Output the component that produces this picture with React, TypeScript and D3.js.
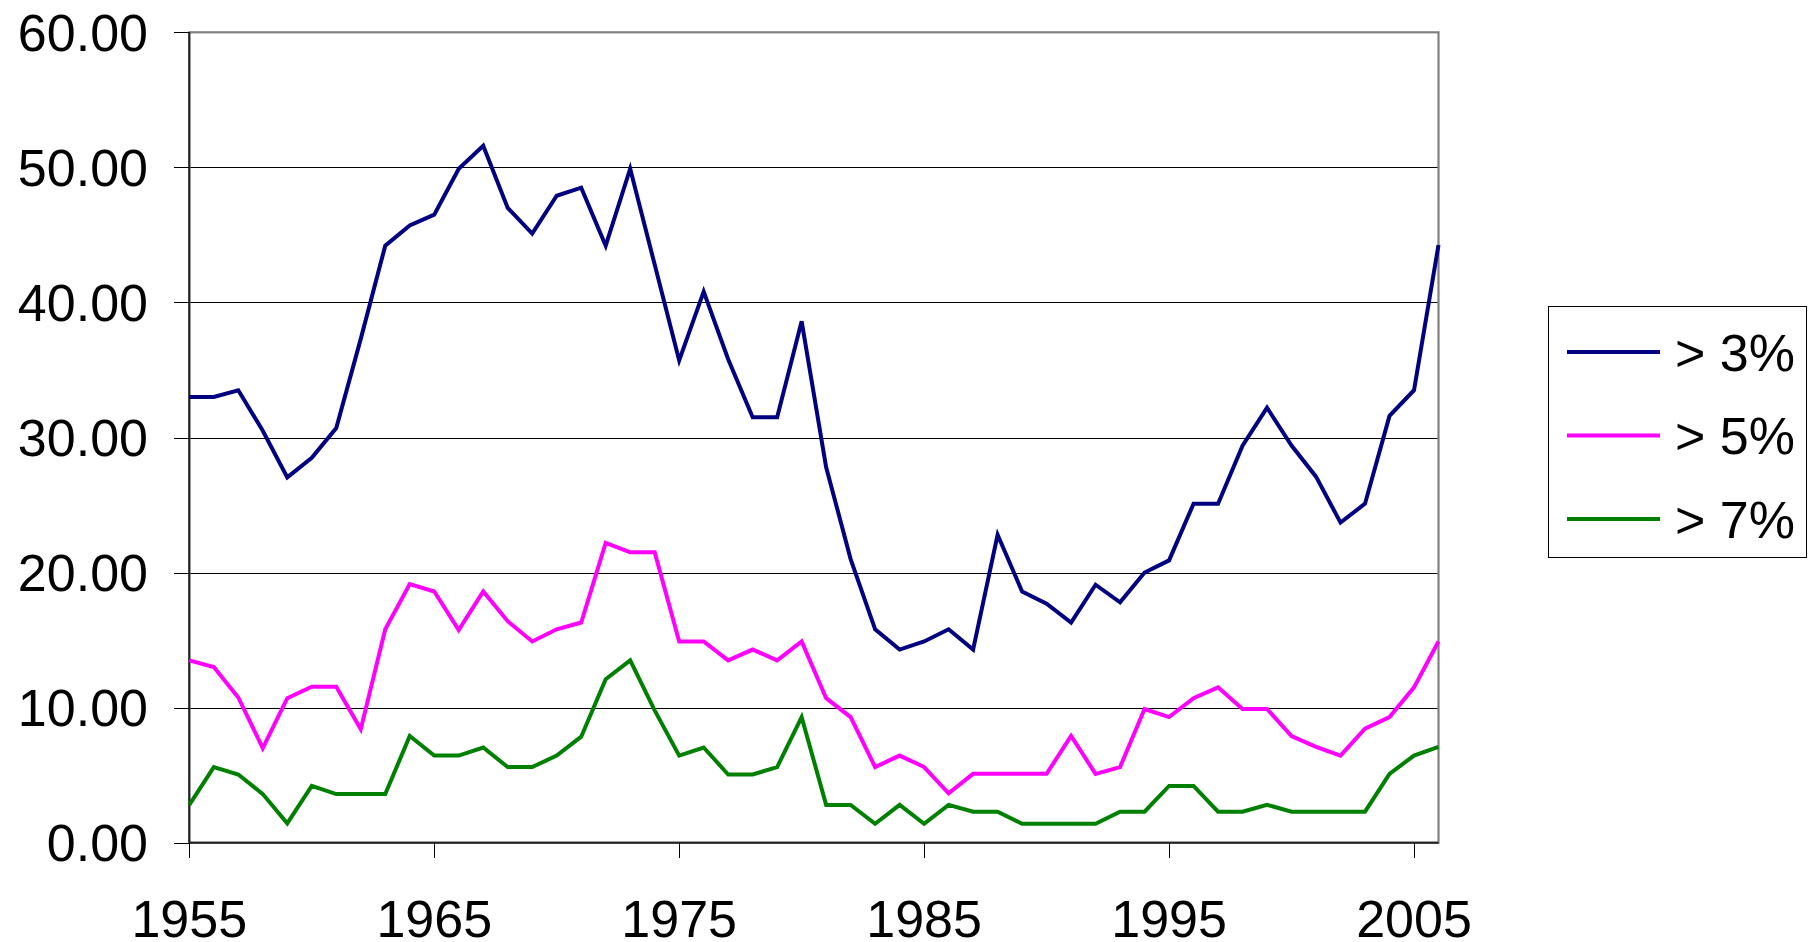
import React from "react";
import * as d3 from "d3";

const years = [
  1955, 1956, 1957, 1958, 1959, 1960, 1961, 1962, 1963, 1964,
  1965, 1966, 1967, 1968, 1969, 1970, 1971, 1972, 1973, 1974,
  1975, 1976, 1977, 1978, 1979, 1980, 1981, 1982, 1983, 1984,
  1985, 1986, 1987, 1988, 1989, 1990, 1991, 1992, 1993, 1994,
  1995, 1996, 1997, 1998, 1999, 2000, 2001, 2002, 2003, 2004,
  2005, 2006,
];

const over3 = [
  33.0, 33.0, 33.5, 30.5, 27.05, 28.5, 30.7, 37.3, 44.2, 45.7,
  46.5, 49.9, 51.6, 47.0, 45.1, 47.9, 48.5, 44.2, 49.9, 42.8,
  35.7, 40.8, 35.8, 31.5, 31.5, 38.6, 27.8, 21.0, 15.8, 14.3,
  14.9, 15.8, 14.3, 22.8, 18.6, 17.7, 16.3, 19.1, 17.8, 20.0,
  20.9, 25.1, 25.1, 29.4, 32.2, 29.4, 27.1, 23.7, 25.1, 31.6,
  33.5, 44.25,
];

const over5 = [
  13.5, 13.0, 10.75, 7.0, 10.7, 11.55, 11.55, 8.4, 15.8, 19.15,
  18.6, 15.75, 18.6, 16.4, 14.9, 15.8, 16.3, 22.2, 21.5, 21.5,
  14.9, 14.9, 13.5, 14.3, 13.5, 14.9, 10.7, 9.3, 5.6, 6.45,
  5.6, 3.65, 5.1, 5.1, 5.1, 5.1, 7.9, 5.1, 5.6, 9.9,
  9.3, 10.7, 11.5, 9.9, 9.9, 7.9, 7.1, 6.45, 8.45, 9.3,
  11.5, 14.9,
];

const over7 = [
  2.8, 5.6, 5.05, 3.6, 1.43, 4.2, 3.6, 3.6, 3.6, 7.9,
  6.45, 6.45, 7.05, 5.6, 5.6, 6.45, 7.85, 12.1, 13.5, 9.8,
  6.45, 7.05, 5.05, 5.05, 5.6, 9.3, 2.8, 2.8, 1.4, 2.8,
  1.4, 2.8, 2.3, 2.3, 1.4, 1.4, 1.4, 1.4, 2.3, 2.3,
  4.2, 4.2, 2.3, 2.3, 2.8, 2.3, 2.3, 2.3, 2.3, 5.1,
  6.45, 7.1,
];

const yTicks = [0, 10, 20, 30, 40, 50, 60];
const xTickYears = [1955, 1965, 1975, 1985, 1995, 2005];
const seriesNames = ["> 3%", "> 5%", "> 7%"];
const seriesColors = ["#000080", "#FF00FF", "#008000"];

const W = 1818;
const H = 942;
const plot = { left: 189.3, right: 1438.5, top: 32.3, bottom: 842.7 };
const FONT = "'Liberation Sans', Arial, Helvetica, sans-serif";

export default function App() {
  const x = d3.scaleLinear().domain([1955, 2006]).range([plot.left, plot.right]);
  const y = d3.scaleLinear().domain([0, 60]).range([plot.bottom, plot.top]);
  const line = d3
    .line<number>()
    .x((_, i) => x(years[i]))
    .y((d) => y(d));
  const series = [over3, over5, over7];

  const legend = { x: 1548.5, y: 306.5, w: 258, h: 251 };
  const legendRows = [352, 435.5, 519];

  return (
    <svg
      width={W}
      height={H}
      style={{ position: "absolute", left: 0, top: 0, background: "#fff" }}
      fontFamily={FONT}
    >
      <rect x={0} y={0} width={W} height={H} fill="#fff" />
      {/* gridlines */}
      {yTicks.slice(1, -1).map((t) => (
        <line
          key={"g" + t}
          x1={plot.left}
          x2={plot.right}
          y1={Math.round(y(t)) + 0.5}
          y2={Math.round(y(t)) + 0.5}
          stroke="#000"
          strokeWidth={1}
        />
      ))}
      {/* plot area frame */}
      <rect
        x={plot.left}
        y={plot.top}
        width={plot.right - plot.left}
        height={plot.bottom - plot.top}
        fill="none"
        stroke="#808080"
        strokeWidth={2.2}
      />
      {/* axes */}
      <line x1={plot.left} x2={plot.left} y1={plot.top} y2={plot.bottom} stroke="#222" strokeWidth={2} />
      <line x1={plot.left} x2={plot.right} y1={plot.bottom} y2={plot.bottom} stroke="#222" strokeWidth={2} />
      {/* y ticks & labels */}
      {yTicks.map((t) => (
        <g key={"y" + t}>
          <line
            x1={174}
            x2={plot.left}
            y1={Math.round(y(t)) + 0.5}
            y2={Math.round(y(t)) + 0.5}
            stroke="#000"
            strokeWidth={1}
          />
          <text
            x={148}
            y={y(t) + 18.5}
            textAnchor="end"
            fontSize={52}
            fill="#000"
          >
            {t.toFixed(2)}
          </text>
        </g>
      ))}
      {/* x ticks & labels */}
      {xTickYears.map((yr) => (
        <g key={"x" + yr}>
          <line
            x1={Math.round(x(yr)) + 0.5}
            x2={Math.round(x(yr)) + 0.5}
            y1={plot.bottom}
            y2={858}
            stroke="#000"
            strokeWidth={1}
          />
          <text x={x(yr)} y={937} textAnchor="middle" fontSize={52} fill="#000">
            {yr}
          </text>
        </g>
      ))}
      {/* series */}
      {series.map((s, i) => (
        <path
          key={"s" + i}
          d={line(s) || ""}
          fill="none"
          stroke={seriesColors[i]}
          strokeWidth={4}
          strokeLinejoin="miter"
        />
      ))}
      {/* legend */}
      <rect
        x={legend.x}
        y={legend.y}
        width={legend.w}
        height={legend.h}
        fill="#fff"
        stroke="#000"
        strokeWidth={1}
      />
      {seriesNames.map((n, i) => (
        <g key={"l" + i}>
          <line
            x1={1567}
            x2={1660}
            y1={legendRows[i]}
            y2={legendRows[i]}
            stroke={seriesColors[i]}
            strokeWidth={4}
          />
          <text x={1675} y={legendRows[i] + 18.5} fontSize={52} fill="#000">
            {n}
          </text>
        </g>
      ))}
    </svg>
  );
}
